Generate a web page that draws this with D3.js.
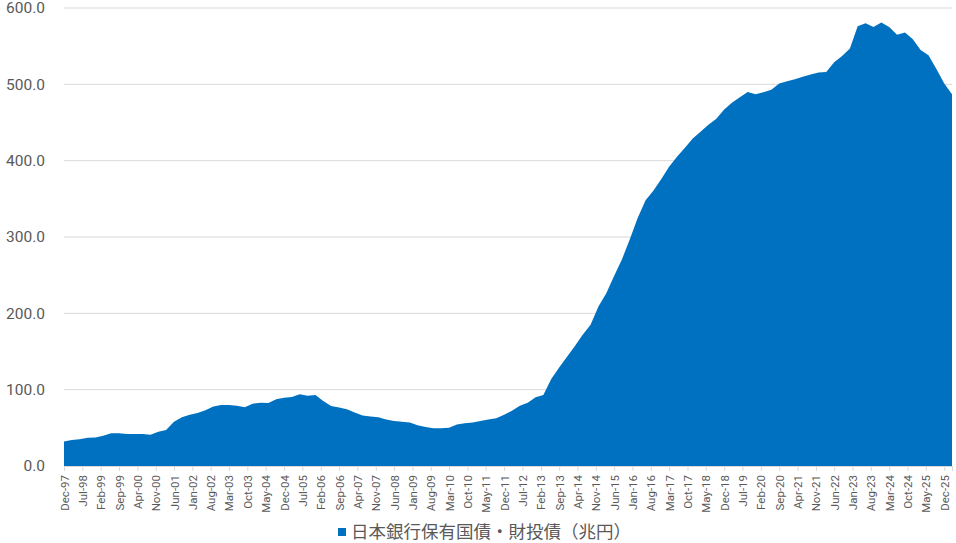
<!DOCTYPE html>
<html>
<head>
<meta charset="utf-8">
<script src="https://cdn.jsdelivr.net/npm/d3@7"></script>
<style>
  body { margin: 0; background: #fff; }
  text { font-family: Roboto, "Noto Sans CJK JP", sans-serif; fill: #595959; }
</style>
</head>
<body>
<div id="chart"></div>
<script>
// quarterly values, Dec-97 .. Mar-26 (trillion yen)
const startMonth = new Date(1997, 11, 1);
const endMonth = new Date(2026, 2, 1);
const values = [
  32,
  34, 35, 37, 37.5,
  39.5, 43, 43, 42,
  42, 42, 41, 45,
  47, 58, 64, 67,
  69.5, 73, 78, 80,
  80, 79, 77, 81.5,
  83, 82.5, 87.5, 89.5,
  90.5, 94, 92, 93,
  85, 78.5, 76.5, 74.5,
  70, 66, 65, 64,
  61, 59, 58, 57,
  53.5, 51, 49.6, 49.6,
  50, 54.5, 56, 57,
  59, 61, 62.5, 67,
  72.5, 79, 83, 90,
  93, 114, 129, 143,
  157, 172, 185, 209,
  226, 249, 271, 297,
  325, 348, 361, 376,
  392, 405, 417, 429,
  438, 447, 455, 467,
  476, 483, 490, 487,
  489.5, 493, 501, 504,
  506.5, 510, 513, 515.5,
  516, 529, 537, 547,
  576, 580, 575, 581,
  575, 565, 568, 559,
  545, 538, 520, 501,
  487
];
const yTicks = [0, 100, 200, 300, 400, 500, 600];
const seriesName = "日本銀行保有国債・財投債（兆円）";

const W = 956, H = 543;
const margin = {top: 8, right: 4, bottom: 77, left: 64};

const dates = d3.timeMonth.range(startMonth, d3.timeMonth.offset(endMonth, 1), 3);
const data = dates.map((d, i) => ({date: d, value: values[i]}));

const svg = d3.select("#chart")
  .append("svg")
    .attr("width", W)
    .attr("height", H);

const x = d3.scaleTime()
  .domain([startMonth, endMonth])
  .range([margin.left, W - margin.right]);

const y = d3.scaleLinear()
  .domain([0, 600])
  .range([H - margin.bottom, margin.top]);

// gridlines
svg.append("g")
  .selectAll("line")
  .data(yTicks.filter(d => d > 0))
  .enter()
  .append("line")
    .attr("x1", margin.left)
    .attr("x2", W - margin.right)
    .attr("y1", d => y(d))
    .attr("y2", d => y(d))
    .attr("stroke", "#d9d9d9")
    .attr("stroke-width", 1);

// area
const area = d3.area()
  .x(d => x(d.date))
  .y0(y(0))
  .y1(d => y(d.value));

svg.append("path")
  .datum(data)
  .attr("fill", "#0070c0")
  .attr("d", area);

// Y axis
const yAxis = svg.append("g")
  .attr("transform", `translate(${margin.left}, 0)`)
  .call(d3.axisLeft(y).tickValues(yTicks).tickFormat(d3.format(".1f")).tickSize(0).tickPadding(19));
yAxis.select(".domain").remove();
yAxis.selectAll("text").style("font-size", "15.5px").attr("fill", "#595959");

// X axis, a label every 7 months
const xTicks = d3.range(0, 49).map(i => d3.timeMonth.offset(startMonth, 7 * i));
const xAxis = svg.append("g")
  .attr("transform", `translate(0, ${y(0)})`)
  .call(d3.axisBottom(x).tickValues(xTicks).tickFormat(d3.timeFormat("%b-%y")).tickSizeOuter(0).tickSize(5));
xAxis.select(".domain").attr("stroke", "#d9d9d9");
xAxis.selectAll(".tick line").attr("stroke", "#d9d9d9");
xAxis.selectAll("text")
  .style("font-size", "11.5px")
  .attr("fill", "#595959")
  .attr("text-anchor", "end")
  .attr("transform", "rotate(-90)")
  .attr("x", -9)
  .attr("y", 0)
  .attr("dy", "0.35em");

// legend
const legend = svg.append("g").attr("transform", "translate(338, 532)");
legend.append("rect")
  .attr("x", 0).attr("y", -4)
  .attr("width", 8).attr("height", 8)
  .attr("fill", "#0070c0");
legend.append("text")
  .attr("x", 13)
  .attr("dy", "0.35em")
  .style("font-size", "17.5px")
  .text(seriesName);
</script>
</body>
</html>
